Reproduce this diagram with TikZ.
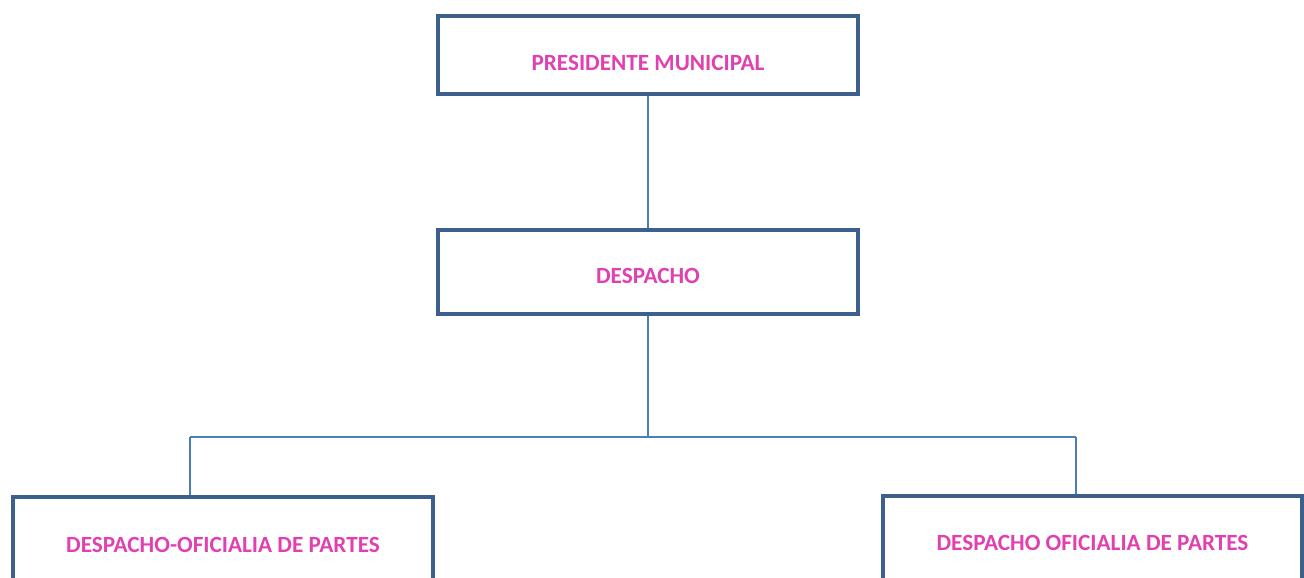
\documentclass[tikz,border=0pt]{standalone}
\usepackage{fontspec}
\setmainfont{Carlito}
\definecolor{boxline}{HTML}{3C5F8E}
\definecolor{linkline}{HTML}{4A7EBB}
\definecolor{labelpink}{HTML}{E040B0}
\begin{document}
\begin{tikzpicture}[x=1pt,y=-1pt,
  unitbox/.style={draw=boxline, line width=3.6pt, fill=white, rectangle,
    minimum width=420pt, inner sep=0pt},
  unitlabel/.style={text=labelpink, font=\fontsize{23.2}{27}\selectfont\bfseries, inner sep=0pt},
  link/.style={draw=linkline, line width=1.6pt}]
  \useasboundingbox (0,0) rectangle (1304,578);
  \clip (0,0) rectangle (1304,578);

  % boxes
  \node[unitbox, minimum height=78pt] (pres) at (648,55) {};
  \node[unitbox, minimum height=84pt] (desp) at (648,272) {};
  \node[unitbox, minimum height=130pt] (ofl) at (223,562) {};
  \node[unitbox, minimum height=130pt, minimum width=419pt] (ofr) at (1092.5,561) {};

  % labels
  \node[unitlabel] (tpres) at (648,63) {PRESIDENTE MUNICIPAL};
  \node[unitlabel] (tdesp) at (648,276) {DESPACHO};
  \node[unitlabel] (tofl) at (223,545) {DESPACHO-OFICIALIA DE PARTES};
  \node[unitlabel] (tofr) at (1092.5,543) {DESPACHO OFICIALIA DE PARTES};

  % connectors
  \coordinate (j) at (648,437);
  \coordinate (jl) at (190,437);
  \coordinate (jr) at (1076,437);
  \draw[link] (pres.south) -- (desp.north);
  \draw[link] (desp.south) -- (j);
  \draw[link] (jl) -- (jr);
  \draw[link] (jl) -- (jl |- ofl.north);
  \draw[link] (jr) -- (jr |- ofr.north);
\end{tikzpicture}
\end{document}
